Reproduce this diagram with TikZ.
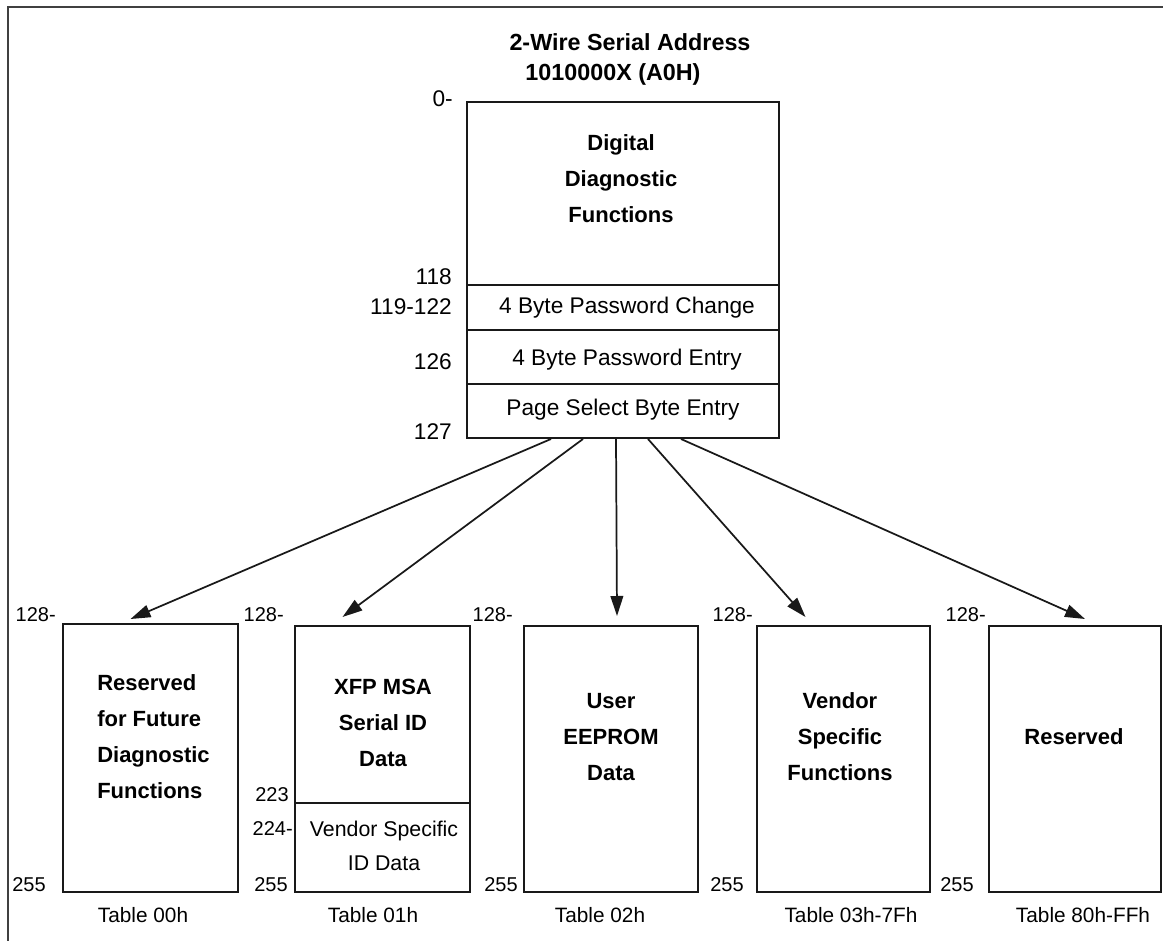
\documentclass[tikz,border=0pt]{standalone}
\usepackage{fontspec}
\setmainfont{Liberation Sans}
\usetikzlibrary{arrows.meta,fit,calc}
\newcommand\txtbig{\fontsize{17}{20}\selectfont}
\newcommand\txtsmall{\fontsize{15.6}{19}\selectfont}
\newcommand\txtnum{\fontsize{15}{18}\selectfont}
\newcommand\txtbold{\fontsize{16.5}{27}\selectfont\bfseries}
\newcommand\txttitle{\fontsize{17.5}{23}\selectfont\bfseries}
\begin{document}
\begin{tikzpicture}[x=0.75pt,y=-0.75pt,
  box/.style={draw=black!90, line width=1.5pt, inner sep=0pt, rectangle},
  conn/.style={draw=black!90, line width=1.3pt, -{Triangle[length=15pt,width=9.5pt]}},
  numlbl/.style={inner sep=0pt, anchor=east, font=\txtnum},
  toplbl/.style={inner sep=0pt, anchor=east, font=\txtbig},
  celltxt/.style={inner sep=0pt, font=\txtbig},
  boldblk/.style={inner sep=0pt, align=center, font=\txtbold},
  tbl/.style={inner sep=0pt, font=\txtsmall}]
\useasboundingbox (0,0) rectangle (1163,941);
\fill[white] (0,0) rectangle (1163,941);
% frame
\draw[black!75, line width=1.8pt] (8,941) -- (8,7) -- (1163,7);
% title
\node[inner sep=0pt, font=\txttitle] (title1) at (630,42) {2-Wire Serial Address};
\node[inner sep=0pt, font=\txttitle] (title2) at (613,74) {1010000X (A0H)};
% top table
\node[box, fit={(467,102)(779,285)}] (ddf) {};
\node[box, fit={(467,285)(779,330)}] (pwc) {};
\node[box, fit={(467,330)(779,384)}] (pwe) {};
\node[box, fit={(467,384)(779,438)}] (pgsel) {};
\node[boldblk] (ddftxt) at (621,179) {Digital\\Diagnostic\\Functions};
\node[celltxt] (pwctxt) at (627,308) {4 Byte Password Change};
\node[celltxt] (pwetxt) at (627,360) {4 Byte Password Entry};
\node[celltxt] (pgseltxt) at (623,410) {Page Select Byte Entry};
\node[toplbl] (l0) at (453,99) {0-};
\node[toplbl] (l118) at (452,277) {118};
\node[toplbl] (l119) at (452,307) {119-122};
\node[toplbl] (l126) at (452,362) {126};
\node[toplbl] (l127) at (452,432) {127};
% bottom tables
\node[box, fit={(63,624)(238,892)}] (b1) {};
\node[box, fit={(295,626)(470,803)}] (b2a) {};
\node[box, fit={(295,803)(470,892)}] (b2b) {};
\node[box, fit={(524,626)(698,892)}] (b3) {};
\node[box, fit={(757,626)(930,892)}] (b4) {};
\node[box, fit={(989,626)(1161,892)}] (b5) {};
\node[boldblk, align=left, anchor=west] (b1txt) at (97,737) {Reserved\\for Future\\Diagnostic\\Functions};
\node[boldblk] (b2txt) at (383,723) {XFP MSA\\Serial ID\\Data};
\node[inner sep=0pt, align=center, font=\fontsize{16}{25}\selectfont] (b2btxt) at (384,846) {Vendor Specific\\ID Data};
\node[boldblk] (b3txt) at (611,737) {User\\EEPROM\\Data};
\node[boldblk] (b4txt) at (840,737) {Vendor\\Specific\\Functions};
\node[boldblk] (b5txt) at (1074,737) {Reserved};
% table names
\node[tbl] (t0) at (143,915) {Table 00h};
\node[tbl] (t1) at (373,915) {Table 01h};
\node[tbl] (t2) at (600,915) {Table 02h};
\node[tbl] (t3) at (851,915) {Table 03h-7Fh};
\node[tbl] (t4) at (1083,915) {Table 80h-FFh};
% offsets
\node[numlbl] (n1a) at (56,615) {128-};
\node[numlbl] (n1b) at (46,885) {255};
\node[numlbl] (n2a) at (284,615) {128-};
\node[numlbl] (n2c) at (289,795) {223};
\node[numlbl] (n2d) at (293,829) {224-};
\node[numlbl] (n2b) at (288,885) {255};
\node[numlbl] (n3a) at (513,615) {128-};
\node[numlbl] (n3b) at (518,885) {255};
\node[numlbl] (n4a) at (753,615) {128-};
\node[numlbl] (n4b) at (744,885) {255};
\node[numlbl] (n5a) at (986,615) {128-};
\node[numlbl] (n5b) at (974,885) {255};
% connector end points
\coordinate (s1) at ($(pgsel.south west)+(85,0)$);
\coordinate (s2) at ($(pgsel.south west)+(117,0)$);
\coordinate (s3) at ($(pgsel.south west)+(150,0)$);
\coordinate (s4) at ($(pgsel.south west)+(182,0)$);
\coordinate (s5) at ($(pgsel.south west)+(215,0)$);
\coordinate (e1) at ($(b1.north)+(-20,-4)$);
\coordinate (e2) at ($(b2a.north)+(-40,-8)$);
\coordinate (e3) at ($(b3.north)+(6,-9)$);
\coordinate (e4) at ($(b4.north)+(-38,-8)$);
\coordinate (e5) at ($(b5.north)+(10,-6)$);
\draw[conn] (s1) -- (e1);
\draw[conn] (s2) -- (e2);
\draw[conn] (s3) -- (e3);
\draw[conn] (s4) -- (e4);
\draw[conn] (s5) -- (e5);
\end{tikzpicture}
\end{document}
